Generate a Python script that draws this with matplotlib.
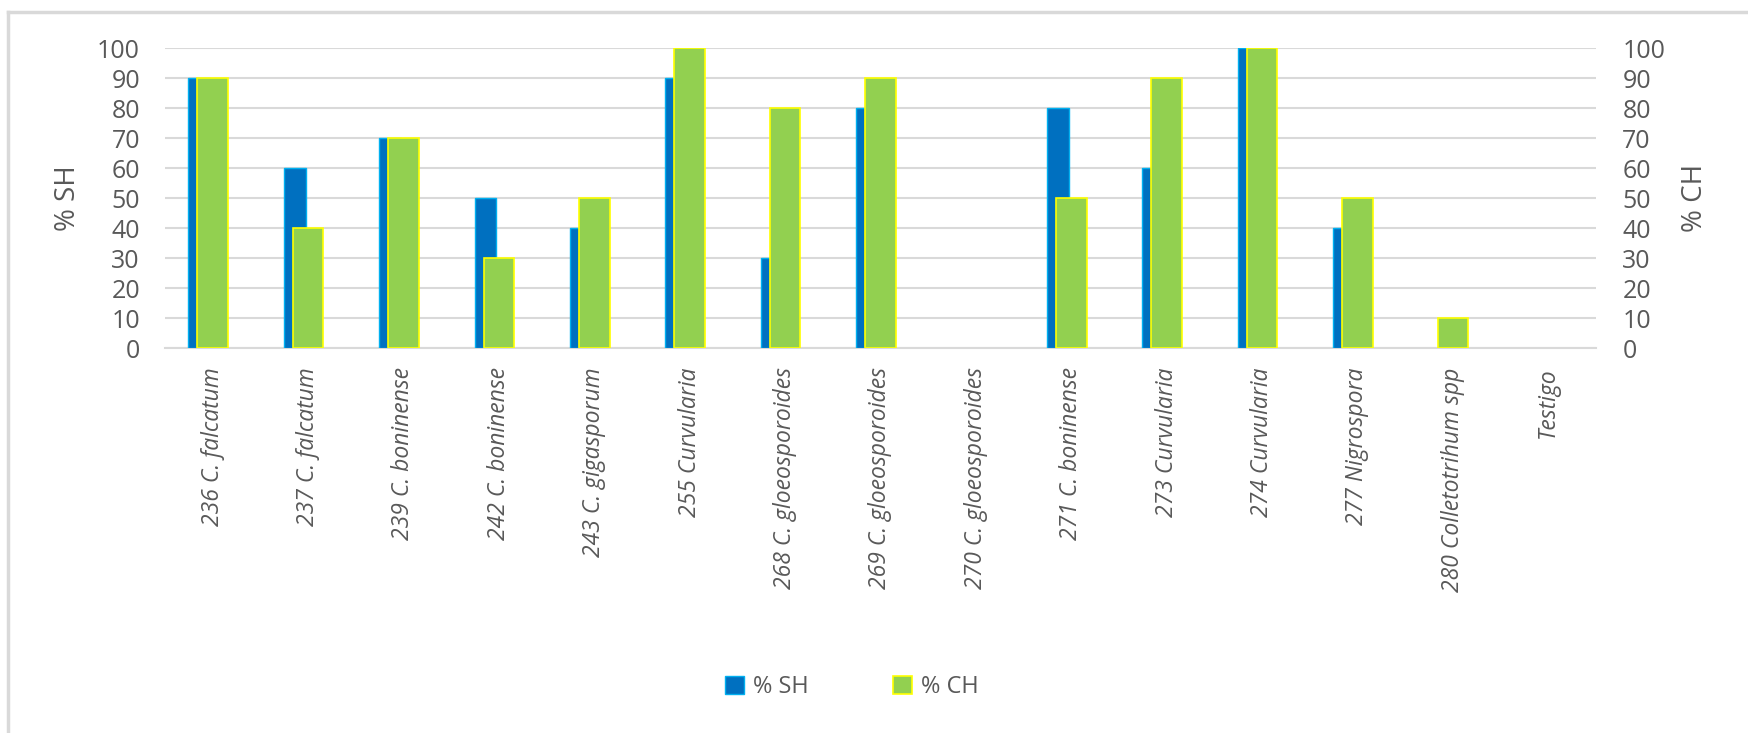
import matplotlib

matplotlib.use("Agg")
import matplotlib.pyplot as plt
from matplotlib.lines import Line2D
from matplotlib.patches import Patch
import numpy as np

plt.rcParams["font.family"] = ["Open Sans", "DejaVu Sans"]

# Aislados evaluados y porcentajes
LABELS = [
    "236 C. falcatum", "237 C. falcatum", "239 C. boninense", "242 C. boninense",
    "243 C. gigasporum", "255 Curvularia", "268 C. gloeosporoides", "269 C. gloeosporoides",
    "270 C. gloeosporoides", "271 C. boninense", "273 Curvularia", "274 Curvularia",
    "277 Nigrospora", "280 Colletotrihum spp", "Testigo",
]
SH = [90, 60, 70, 50, 40, 90, 30, 80, 0, 80, 60, 100, 40, 0, 0]
CH = [90, 40, 70, 30, 50, 100, 80, 90, 0, 50, 90, 100, 50, 10, 0]
YTICKS = [0, 10, 20, 30, 40, 50, 60, 70, 80, 90, 100]

BLUE, BLUE_EDGE = "#0070C0", "#00B0F0"
GREEN, GREEN_EDGE = "#92D050", "#FFFF00"
TXT, GRID = "#595959", "#D9D9D9"

fig = plt.figure(figsize=(17.49, 7.33), dpi=100)
ax = fig.add_axes([0.0943, 0.5252, 0.8182, 0.4093])
ax2 = ax.twinx()

x = np.arange(len(LABELS))
# sin borde en las barras de valor 0 (Excel no dibuja nada)
ax.bar(x - 0.14, SH, 0.23, color=BLUE, edgecolor=BLUE_EDGE,
       linewidth=[1 if v else 0 for v in SH], zorder=3)
ax2.bar(x, CH, 0.32, color=GREEN, edgecolor=GREEN_EDGE,
        linewidth=[1.2 if v else 0 for v in CH], zorder=3)

for a in (ax, ax2):
    a.set_ylim(0, 100)
    a.set_yticks(YTICKS)
    a.set_xlim(-0.5, len(LABELS) - 0.5)
    for s in a.spines.values():
        s.set_visible(False)
ax.spines["bottom"].set_visible(True)
ax.spines["bottom"].set_color(GRID)
ax.spines["bottom"].set_linewidth(1.5)
ax.yaxis.grid(True, color=GRID, lw=1.5, zorder=0)
ax.set_axisbelow(True)
ax2.patch.set_visible(False)

ax.tick_params(axis="y", length=0, pad=18, labelsize=18, labelcolor=TXT)
ax2.tick_params(axis="y", length=0, pad=19, labelsize=18, labelcolor=TXT)
ax.set_xticks(x)
ax.set_xticklabels(LABELS, rotation=90, style="italic", fontsize=16.5, color=TXT, va="top")
ax.tick_params(axis="x", length=0, pad=14)

fig.text(68 / 1749, 1 - 198 / 733, "% SH", rotation=90, fontsize=20, color=TXT,
         ha="center", va="center")
fig.text(1695 / 1749, 1 - 198 / 733, "% CH", rotation=90, fontsize=20, color=TXT,
         ha="center", va="center")

handles = [Patch(facecolor=BLUE, edgecolor=BLUE_EDGE, label="% SH"),
           Patch(facecolor=GREEN, edgecolor=GREEN_EDGE, lw=1.2, label="% CH")]
leg = fig.legend(handles=handles, loc="center", bbox_to_anchor=(852 / 1749, 1 - 687 / 733),
                 ncol=2, frameon=False, fontsize=17, handlelength=0.8, handleheight=0.8,
                 handletextpad=0.4, columnspacing=3.55)
for t in leg.get_texts():
    t.set_color(TXT)

# marco exterior del área del gráfico
fig.add_artist(Line2D([8 / 1749, 8 / 1749], [0, 1 - 12 / 733], color=GRID, lw=2.5))
fig.add_artist(Line2D([8 / 1749, 1], [1 - 12 / 733, 1 - 12 / 733], color=GRID, lw=2.5))

fig.savefig("out.png", dpi=100)
